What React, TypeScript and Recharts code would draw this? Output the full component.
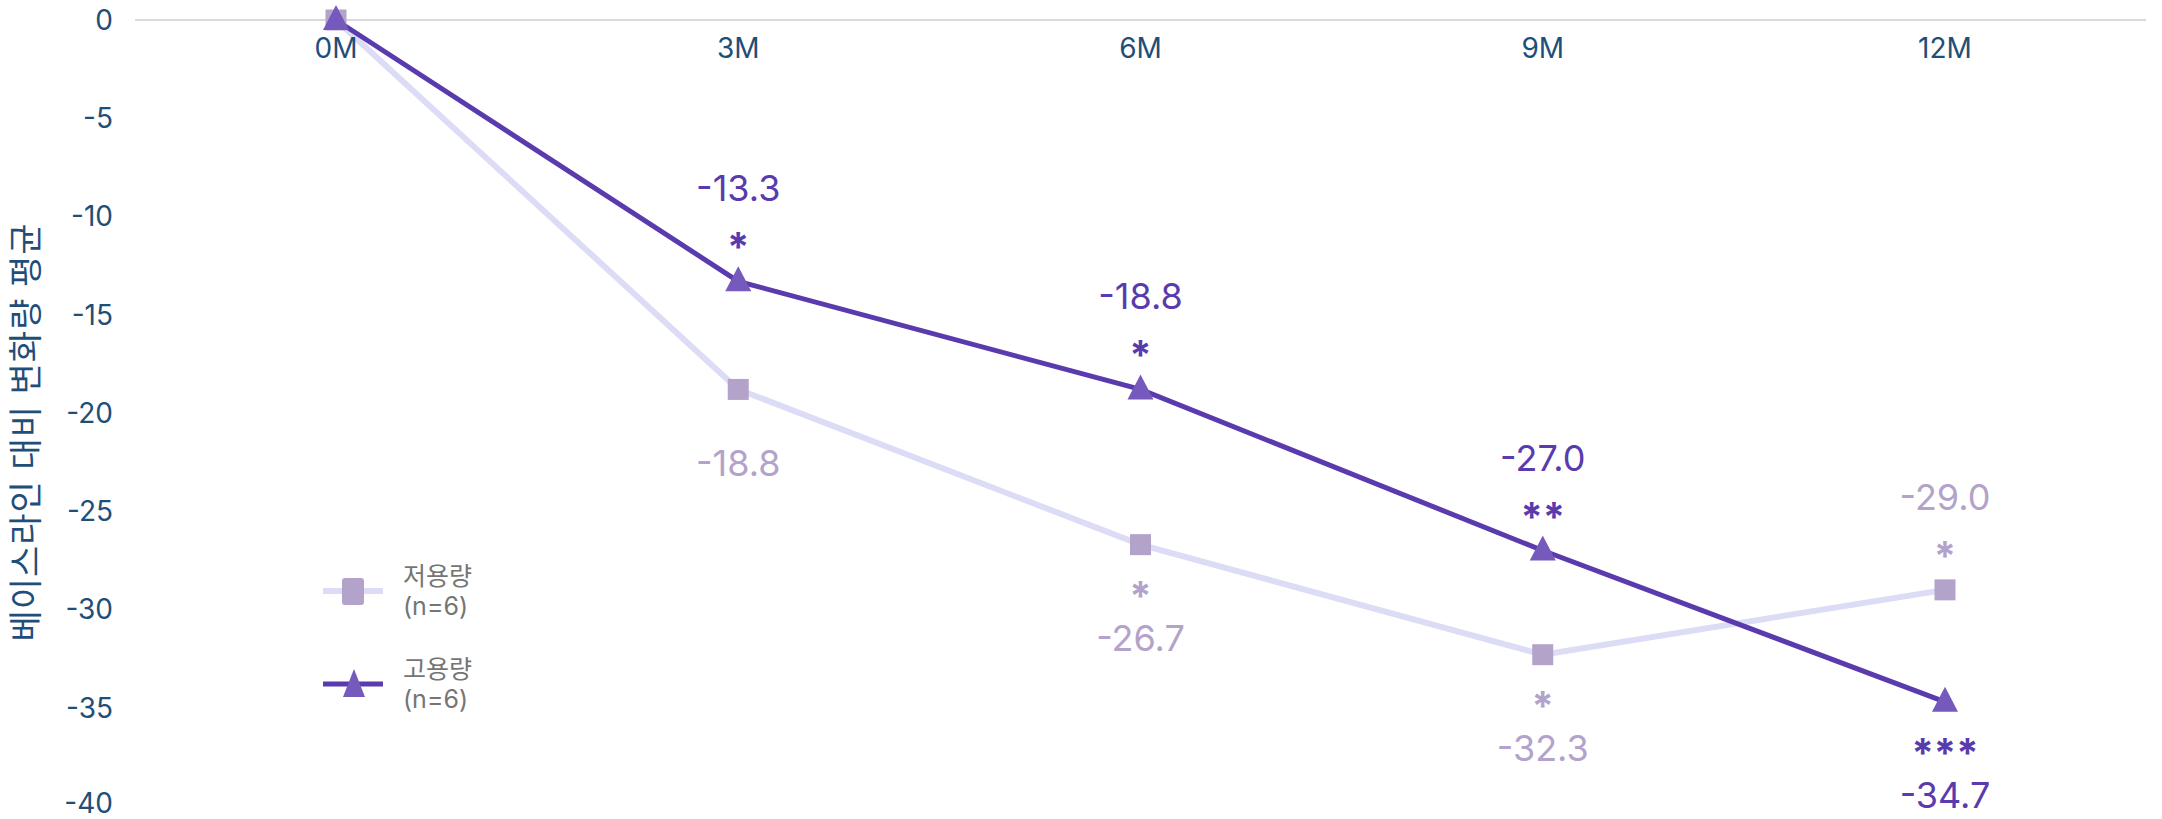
import {
  LineChart,
  Line,
  XAxis,
  YAxis,
  LabelList,
} from 'recharts';

const months = ['0M', '3M', '6M', '9M', '12M'];
const lowDose = [0, -18.8, -26.7, -32.3, -29.0];
const highDose = [0, -13.3, -18.8, -27.0, -34.7];
const lowStars = ['', '', '*', '*', '*'];
const highStars = ['', '*', '*', '**', '***'];
// where each value label goes relative to its point
const lowSide = ['none', 'below', 'below', 'below', 'above'];
const highSide = ['none', 'above', 'above', 'above', 'below'];
const yTicks = [0, -5, -10, -15, -20, -25, -30, -35, -40];

const AXIS_COLOR = '#1F4E79';
const LOW_LINE = '#DCDCF6';
const LOW_MARK = '#B3A3CB';
const HIGH_LINE = '#5A3BAD';
const HIGH_MARK = '#7559BC';
const FONT = 'Inter, "Noto Sans CJK KR", sans-serif';

const data = months.map((m, i) => ({
  month: m,
  low: lowDose[i],
  high: highDose[i],
}));

const SquareDot = (props: any) => {
  const { cx, cy } = props;
  if (cx == null || cy == null) return null;
  return <rect x={cx - 10.5} y={cy - 10.5} width={21} height={21} fill={LOW_MARK} />;
};

const TriangleDot = (props: any) => {
  const { cx, cy } = props;
  if (cx == null || cy == null) return null;
  return (
    <path
      d={`M${cx},${cy - 15} L${cx + 13},${cy + 10} L${cx - 13},${cy + 10} Z`}
      fill={HIGH_MARK}
    />
  );
};

const makeLabel = (sides: string[], stars: string[], color: string) => (props: any) => {
  const { x, y, value, index } = props;
  const side = sides[index];
  if (side === 'none') return null;
  const dir = side === 'above' ? -1 : 1;
  // value text sits further out when a significance mark is between it and the point
  const gap = stars[index] ? 93 : 74;
  return (
    <g>
      {stars[index] && (
        <text
          x={x}
          y={y + dir * 44 + (dir > 0 ? 21 : 24)}
          textAnchor="middle"
          fill={color}
          fontSize={40}
          fontWeight={700}
          fontFamily={FONT}
        >
          {stars[index]}
        </text>
      )}
      <text
        x={x}
        y={y + dir * gap}
        textAnchor="middle"
        dominantBaseline="central"
        fill={color}
        fontSize={36}
        fontFamily={FONT}
      >
        {Number(value).toFixed(1)}
      </text>
    </g>
  );
};

const MonthTick = (props: any) => {
  const { x, payload } = props;
  return (
    <text
      x={x}
      y={48}
      textAnchor="middle"
      dominantBaseline="central"
      fill={AXIS_COLOR}
      fontSize={28}
      fontFamily={FONT}
    >
      {payload.value}
    </text>
  );
};

const YTitle = (props: any) => {
  const { viewBox } = props;
  const cx = 25;
  const cy = viewBox.y + viewBox.height / 2 + 19;
  return (
    <text
      x={cx}
      y={cy}
      transform={`rotate(-90, ${cx}, ${cy})`}
      textAnchor="middle"
      dominantBaseline="central"
      fill={AXIS_COLOR}
      fontSize={34}
      letterSpacing={1}
      fontFamily={FONT}
    >
      베이스라인 대비 변화량 평균
    </text>
  );
};

const legendItems = [
  { name: '저용량', n: '(n=6)', line: LOW_LINE, width: 6, shape: 'square' },
  { name: '고용량', n: '(n=6)', line: HIGH_LINE, width: 5, shape: 'triangle' },
];

const DoseLegend = () => (
  <svg width={200} height={200} style={{ position: 'absolute', left: 323, top: 545 }}>
    {legendItems.map((item, i) => {
      const cy = 46 + i * 93;
      return (
        <g key={item.name}>
          <line x1={0} x2={60} y1={cy} y2={cy} stroke={item.line} strokeWidth={item.width} />
          {item.shape === 'square' ? (
            <rect x={19} y={cy - 13} width={22} height={27} rx={3} fill={LOW_MARK} />
          ) : (
            <path d={`M31,${cy - 15} L42,${cy + 13} L20,${cy + 13} Z`} fill={HIGH_MARK} />
          )}
          <text x={80} y={cy - 15} dominantBaseline="central" fill="#757575" fontSize={25} fontFamily={FONT}>
            {item.name}
          </text>
          <text x={80} y={cy + 15} dominantBaseline="central" fill="#757575" fontSize={25} fontFamily={FONT}>
            {item.n}
          </text>
        </g>
      );
    })}
  </svg>
);

export default function App() {
  return (
    <div style={{ position: 'absolute', left: 0, top: 0, width: 2162, height: 819, background: '#fff' }}>
      <LineChart
        width={2162}
        height={819}
        data={data}
        margin={{ top: 19, right: 16, left: 0, bottom: 13 }}
      >
        <XAxis
          dataKey="month"
          orientation="top"
          height={1}
          interval={0}
          tickSize={0}
          tickMargin={0}
          padding={{ left: 201, right: 201 }}
          tick={<MonthTick />}
          axisLine={{ stroke: '#D9D9D9', strokeWidth: 2 }}
        />
        <YAxis
          domain={[-40, 0]}
          ticks={yTicks}
          width={135}
          axisLine={false}
          tickLine={false}
          tickSize={0}
          tickMargin={22}
          tick={{ fill: AXIS_COLOR, fontSize: 28, fontFamily: FONT }}
          label={<YTitle />}
        />
        <Line
          type="linear"
          dataKey="low"
          stroke={LOW_LINE}
          strokeWidth={6}
          dot={<SquareDot />}
          activeDot={false}
          isAnimationActive={false}
        >
          <LabelList dataKey="low" content={makeLabel(lowSide, lowStars, LOW_MARK)} />
        </Line>
        <Line
          type="linear"
          dataKey="high"
          stroke={HIGH_LINE}
          strokeWidth={5}
          dot={<TriangleDot />}
          activeDot={false}
          isAnimationActive={false}
        >
          <LabelList dataKey="high" content={makeLabel(highSide, highStars, HIGH_LINE)} />
        </Line>
      </LineChart>
      <DoseLegend />
    </div>
  );
}
